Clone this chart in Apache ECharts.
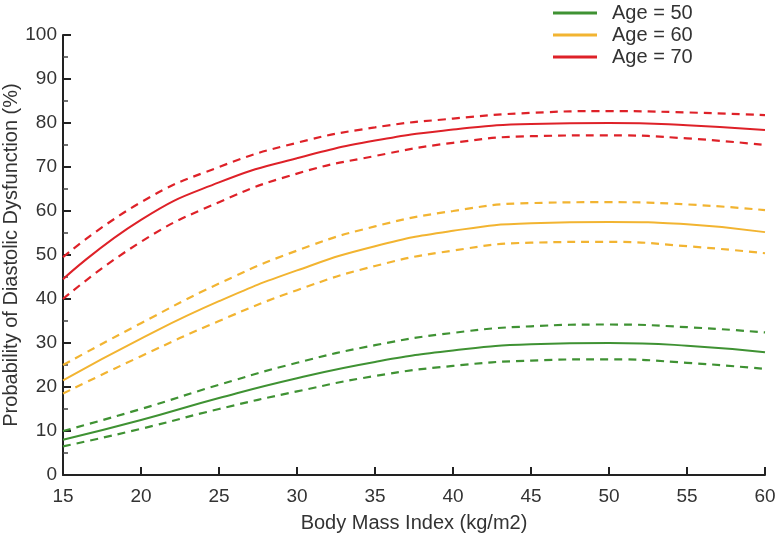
<!DOCTYPE html>
<html><head><meta charset="utf-8">
<script src="https://cdn.jsdelivr.net/npm/echarts@6/dist/echarts.min.js"></script>
<style>html,body{margin:0;padding:0;background:#fff}#c{width:777px;height:543px}</style>
</head><body><div id="c"></div>
<script>
const bmi = [15, 20, 25, 30, 35, 40, 45, 50, 55, 60];
const age50 = [8, 12.5, 17.5, 22, 25.7, 28.3, 29.7, 30, 29.4, 27.9];
const age50Upper = [10, 15, 20.5, 25.5, 29.5, 32.3, 33.8, 34.2, 33.6, 32.4];
const age50Lower = [6.5, 10.5, 15, 19, 22.5, 24.8, 26, 26.3, 25.5, 24.1];
const age60 = [21.5, 31, 39.5, 46.5, 52, 55.5, 57.2, 57.5, 57, 55.2];
const age60Upper = [25, 34.5, 43.5, 51, 56.5, 60, 61.8, 62, 61.5, 60.2];
const age60Lower = [18.5, 27, 35, 42, 47.5, 51, 52.8, 53, 52, 50.4];
const age70 = [44.5, 58, 66.5, 72, 76, 78.5, 79.8, 80, 79.5, 78.4];
const age70Upper = [49.5, 62, 70, 75.5, 79, 81, 82.3, 82.7, 82.4, 81.8];
const age70Lower = [40, 53, 62, 68.5, 72.5, 75.5, 77, 77.2, 76.5, 75];
const legendNames = ['Age = 50', 'Age = 60', 'Age = 70'];
const colors = ['#3f9233', '#f2b431', '#de2128'];
const FONT = 'Liberation Sans, Arial, sans-serif';

function pts(arr) { return bmi.map((x, i) => [x, arr[i]]); }
function solid(name, arr, color) {
  return { name, type: 'line', data: pts(arr), smooth: true, symbol: 'none',
    lineStyle: { color, width: 2 }, itemStyle: { color }, z: 3 };
}
function dashed(name, arr, color) {
  return { name, type: 'line', data: pts(arr), smooth: true, symbol: 'none',
    lineStyle: { color, width: 2.2, type: [8, 6] }, itemStyle: { color }, z: 2 };
}
const chart = echarts.init(document.getElementById('c'));
chart.setOption({
  animation: false,
  backgroundColor: '#fff',
  legend: {
    data: legendNames, orient: 'vertical', left: 548, top: -2,
    itemWidth: 44, itemHeight: 3, icon: 'rect', itemGap: 2,
    textStyle: { fontFamily: FONT, fontSize: 20, color: '#333', padding: [0, 0, 0, 10] }
  },
  grid: { left: 63, right: 12, top: 35, bottom: 68, containLabel: false, outerBoundsMode: 'none' },
  xAxis: {
    type: 'value', min: 15, max: 60, interval: 5,
    name: 'Body Mass Index (kg/m2)', nameLocation: 'middle', nameGap: 38, nameMoveOverlap: false,
    nameTextStyle: { fontFamily: FONT, fontSize: 20, color: '#333' },
    axisLine: { lineStyle: { color: '#222', width: 2 } },
    axisTick: { inside: true, length: 8, lineStyle: { color: '#222', width: 2 } },
    axisLabel: { fontFamily: FONT, fontSize: 19, color: '#333', margin: 12 },
    splitLine: { show: false }
  },
  yAxis: {
    type: 'value', min: 0, max: 100, interval: 10,
    name: 'Probability of Diastolic Dysfunction (%)', nameLocation: 'middle', nameGap: 42, nameMoveOverlap: false,
    nameTextStyle: { fontFamily: FONT, fontSize: 20, color: '#333' },
    axisLine: { show: true, lineStyle: { color: '#222', width: 2 } },
    axisTick: { show: true, inside: true, length: 8, lineStyle: { color: '#222', width: 2 } },
    minorTick: { show: true, splitNumber: 2, length: 5, lineStyle: { color: '#444', width: 1.5 } },
    axisLabel: { fontFamily: FONT, fontSize: 19, color: '#333', margin: 6 },
    splitLine: { show: false }
  },
  series: [
    solid(legendNames[0], age50, colors[0]),
    dashed('Age 50 upper', age50Upper, colors[0]),
    dashed('Age 50 lower', age50Lower, colors[0]),
    solid(legendNames[1], age60, colors[1]),
    dashed('Age 60 upper', age60Upper, colors[1]),
    dashed('Age 60 lower', age60Lower, colors[1]),
    solid(legendNames[2], age70, colors[2]),
    dashed('Age 70 upper', age70Upper, colors[2]),
    dashed('Age 70 lower', age70Lower, colors[2])
  ]
});
</script></body></html>
